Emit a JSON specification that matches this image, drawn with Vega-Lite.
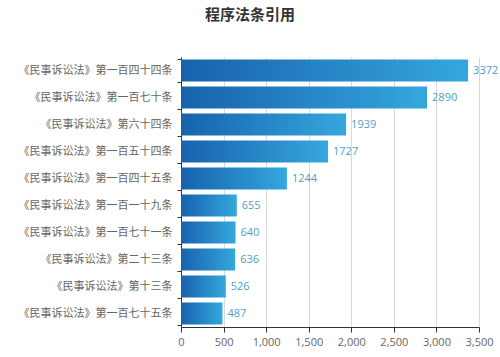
{
  "$schema": "https://vega.github.io/schema/vega-lite/v6.json",
  "width": 298,
  "height": 270,
  "autosize": {"type": "none"},
  "padding": {"left": 181, "top": 57, "right": 21, "bottom": 30},
  "background": "white",
  "title": {
    "text": "程序法条引用",
    "anchor": "middle",
    "frame": "group",
    "dx": -80,
    "offset": 28,
    "fontSize": 15,
    "fontWeight": "bold",
    "color": "#333333",
    "font": "Noto Sans CJK SC"
  },
  "data": {
    "values": [
      {"law": "《民事诉讼法》第一百四十四条", "count": 3372},
      {"law": "《民事诉讼法》第一百七十条", "count": 2890},
      {"law": "《民事诉讼法》第六十四条", "count": 1939},
      {"law": "《民事诉讼法》第一百五十四条", "count": 1727},
      {"law": "《民事诉讼法》第一百四十五条", "count": 1244},
      {"law": "《民事诉讼法》第一百一十九条", "count": 655},
      {"law": "《民事诉讼法》第一百七十一条", "count": 640},
      {"law": "《民事诉讼法》第二十三条", "count": 636},
      {"law": "《民事诉讼法》第十三条", "count": 526},
      {"law": "《民事诉讼法》第一百七十五条", "count": 487}
    ]
  },
  "encoding": {
    "y": {
      "field": "law",
      "type": "nominal",
      "sort": null,
      "scale": {"paddingInner": 0.18, "paddingOuter": 0.09},
      "axis": {
        "title": null,
        "ticks": true,
        "tickBand": "extent",
        "tickSize": 4,
        "tickColor": "#333333",
        "labelPadding": 5,
        "labelFont": "Noto Sans CJK SC",
        "labelFontSize": 11,
        "labelColor": "#666666",
        "domainColor": "#333333",
        "labelLimit": 200
      }
    },
    "x": {
      "field": "count",
      "type": "quantitative",
      "scale": {"domain": [0, 3500], "nice": false},
      "axis": {
        "title": null,
        "values": [0, 500, 1000, 1500, 2000, 2500, 3000, 3500],
        "format": ",d",
        "labelFont": "Open Sans",
        "labelFontSize": 11,
        "labelColor": "#666666",
        "labelPadding": 4,
        "domainColor": "#333333",
        "tickColor": "#333333",
        "tickSize": 5,
        "gridColor": "#d9d9d9",
        "labelFlush": false
      }
    }
  },
  "layer": [
    {
      "mark": {
        "type": "bar",
        "color": {
          "gradient": "linear",
          "x1": 0, "x2": 1, "y1": 0, "y2": 0,
          "stops": [
            {"offset": 0, "color": "#1762ad"},
            {"offset": 1, "color": "#35a7de"}
          ]
        }
      }
    },
    {
      "mark": {
        "type": "text",
        "align": "left",
        "baseline": "middle",
        "dx": 5,
        "fontSize": 11,
        "font": "Open Sans",
        "color": "#4f9dcc"
      },
      "encoding": {"text": {"field": "count", "type": "quantitative", "format": "d"}}
    }
  ],
  "config": {"view": {"stroke": null}}
}
